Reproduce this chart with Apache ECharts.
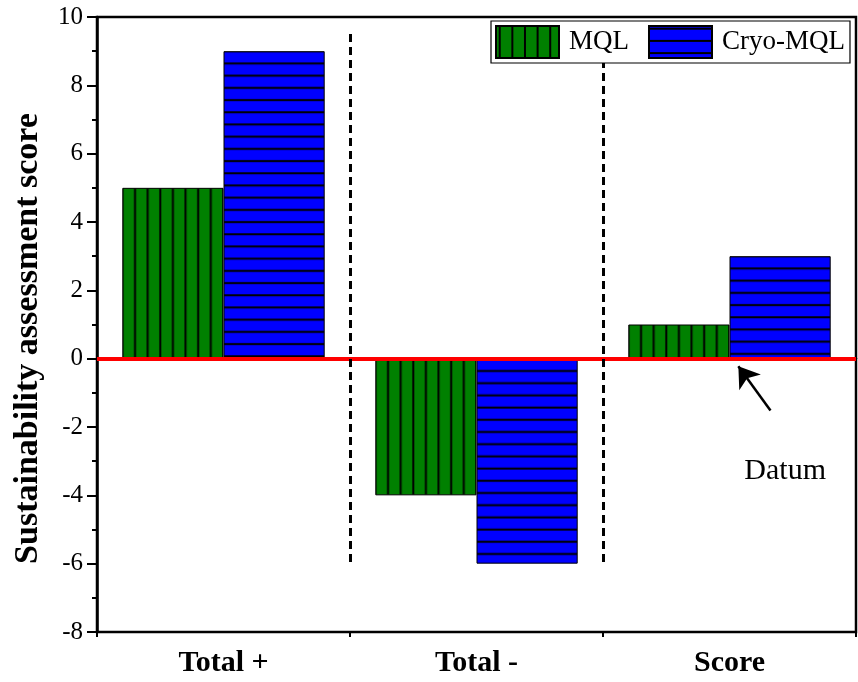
<!DOCTYPE html>
<html>
<head>
<meta charset="utf-8">
<script src="https://cdn.jsdelivr.net/npm/echarts@6/dist/echarts.min.js"></script>
<style>html,body{margin:0;padding:0;background:#fff}#c{width:858px;height:682px}</style>
</head>
<body>
<div id="c"></div>
<script>
// ---- data ----
const categories = ['Total +', 'Total -', 'Score'];
const mqlValues = [5, -4, 1];
const cryoValues = [9, -6, 3];
const seriesNames = ['MQL', 'Cryo-MQL'];
const yMin = -8, yMax = 10, yStep = 2;
const dividerPositions = [1, 2];          // category boundaries (hidden value axis)
const dividerRange = [9.5, -6];
const datumArrow = [[2.662, -1.52], [2.535, -0.22]];
const datumLabel = { text: 'Datum', at: [2.72, -3.3] };

const FONT = '"Liberation Serif", "Times New Roman", serif';
const GREEN = '#008000', BLUE = '#0000FF';

function vStripeTile(w, n) {
  const c = document.createElement('canvas');
  c.width = Math.round(w); c.height = 4;
  const g = c.getContext('2d');
  g.fillStyle = GREEN; g.fillRect(0, 0, c.width, c.height);
  g.fillStyle = '#000';
  for (let k = 0; k < n; k++) g.fillRect(k * c.width / n - 0.9, 0, 2, c.height);
  g.fillRect(c.width - 0.9, 0, 1, c.height);
  return c;
}
function hStripeTile(step, n) {
  const c = document.createElement('canvas');
  c.width = 4; c.height = Math.round(step * n);
  const g = c.getContext('2d');
  g.fillStyle = BLUE; g.fillRect(0, 0, c.width, c.height);
  g.fillStyle = '#000';
  for (let k = 0; k < n; k++) g.fillRect(0, k * c.height / n - 0.9, c.width, 2);
  g.fillRect(0, c.height - 0.9, c.width, 1);
  return c;
}
const vTile = vStripeTile(101.4, 8);
const hTile = hStripeTile(12.2, 10);
const pat = (img, x, y) => ({ image: img, repeat: 'repeat', x: x, y: y });

const chart = echarts.init(document.getElementById('c'), null, { renderer: 'canvas' });
const option = {
  animation: false,
  backgroundColor: '#fff',
  grid: { left: 97, right: 2, top: 17, bottom: 50, show: true, borderColor: '#000', borderWidth: 2.5, backgroundColor: 'transparent' },
  legend: {
    left: 491, top: 21, orient: 'horizontal', icon: 'rect', z: 20,
    itemWidth: 63, itemHeight: 32, itemGap: 19,
    padding: [4, 5, 4, 4], borderColor: '#000', borderWidth: 1.2, backgroundColor: '#fff',
    textStyle: { fontFamily: FONT, fontSize: 27, color: '#000', padding: [0, 0, 0, 5] },
    data: seriesNames
  },
  xAxis: [{
    type: 'category', data: categories, position: 'bottom',
    axisLine: { lineStyle: { color: '#000', width: 2.5 } },
    axisTick: { alignWithLabel: true, length: 9, lineStyle: { color: '#000', width: 2 } },
    axisLabel: { fontFamily: FONT, fontWeight: 'bold', fontSize: 30, color: '#000', margin: 16 },
    splitLine: { show: false }
  }, {
    type: 'value', min: 0, max: 3, interval: 1, position: 'bottom', offset: 0,
    axisLine: { show: false },
    axisTick: { show: true, length: 5, lineStyle: { color: '#000', width: 2 } },
    axisLabel: { show: false }, splitLine: { show: false }
  }],
  yAxis: {
    type: 'value', min: yMin, max: yMax, interval: yStep,
    name: 'Sustainability assessment score', nameLocation: 'middle', nameGap: 52,
    nameTextStyle: { fontFamily: FONT, fontWeight: 'bold', fontSize: 34, color: '#000', padding: [0, 28, 0, 0] },
    axisLine: { show: true, lineStyle: { color: '#000', width: 2.5 } },
    axisTick: { show: true, length: 10, lineStyle: { color: '#000', width: 2 } },
    minorTick: { show: true, splitNumber: 2, length: 5, lineStyle: { color: '#000', width: 2 } },
    axisLabel: { fontFamily: FONT, fontSize: 25, color: '#000', margin: 14 },
    splitLine: { show: false }
  },
  series: [{
    name: seriesNames[0], type: 'bar', data: mqlValues,
    barGap: '0%', barCategoryGap: '20%',
    itemStyle: { color: pat(vTile, 496, 0), borderColor: '#000', borderWidth: 1 },
    emphasis: { disabled: true },
    markLine: {
      silent: true, symbol: ['none', 'none'], label: { show: false },
      lineStyle: { color: '#FF0000', width: 4, type: 'solid' },
      data: [{ yAxis: 0 }]
    },
    z: 2
  }, {
    name: seriesNames[1], type: 'bar', data: cryoValues,
    barGap: '0%', barCategoryGap: '20%',
    itemStyle: { color: pat(hTile, 0, 27), borderColor: '#000', borderWidth: 1 },
    emphasis: { disabled: true },
    z: 2
  }, {
    name: 'annot', type: 'line', xAxisIndex: 1, yAxisIndex: 0, data: [],
    silent: true,
    markLine: {
      silent: true, symbol: ['none', 'none'], label: { show: false },
      lineStyle: { color: '#000', width: 3, type: [8, 5] },
      data: dividerPositions.map(x => [{ coord: [x, dividerRange[0]] }, { coord: [x, dividerRange[1]] }])
        .concat([[{ coord: datumArrow[0], lineStyle: { type: 'solid', width: 2.5 }, symbol: 'none' },
                  { coord: datumArrow[1], symbol: 'arrow', symbolSize: 20 }]])
    },
    markPoint: {
      silent: true,
      data: [{ coord: datumLabel.at, symbol: 'circle', symbolSize: 0,
               label: { show: true, position: 'inside', formatter: datumLabel.text, fontFamily: FONT, fontSize: 30, color: '#000' } }]
    },
    z: 1
  }]
};
chart.setOption(option);

// anchor each bar's stripes to its own edges
try {
  const model = chart.getModel();
  const update = [0, 1].map(si => {
    const d = model.getSeriesByIndex(si).getData();
    const vals = si === 0 ? mqlValues : cryoValues;
    return {
      data: vals.map((v, i) => {
        const l = d.getItemLayout(i);
        const top = Math.min(l.y, l.y + l.height);
        return { value: v, itemStyle: { color: si === 0 ? pat(vTile, l.x, 0) : pat(hTile, 0, top) } };
      })
    };
  });
  chart.setOption({ series: update });
} catch (e) { console.log(e); }
</script>
</body>
</html>
